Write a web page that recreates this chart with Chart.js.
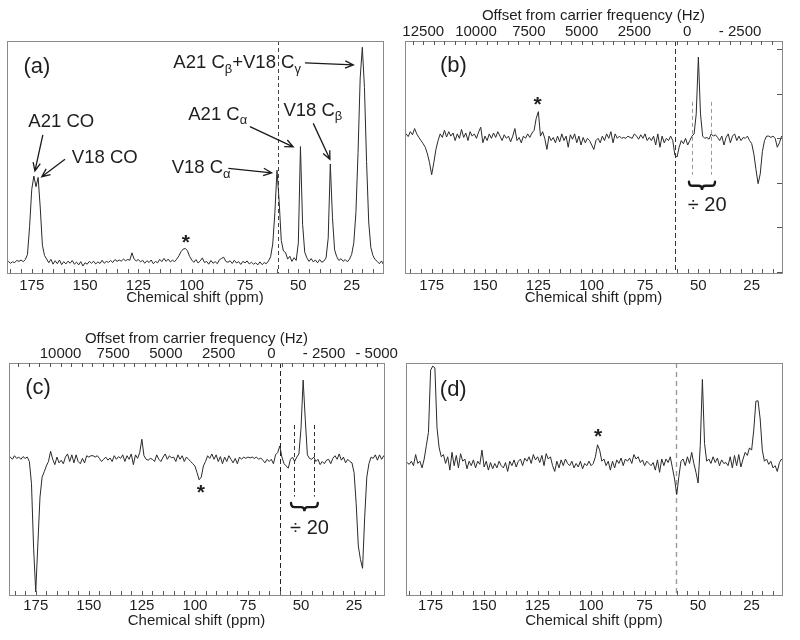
<!DOCTYPE html>
<html><head><meta charset="utf-8">
<script src="https://cdn.jsdelivr.net/npm/chart.js@4.4.0/dist/chart.umd.min.js"></script>
<style>
html,body{margin:0;padding:0;background:#fff;}
#wrap{position:relative;width:800px;height:640px;overflow:hidden;}
.panel{position:absolute;width:400px;height:320px;}
canvas{display:block;}
</style></head><body>
<div id="wrap">
<div class="panel" style="left:0;top:0"><canvas id="ca" width="400" height="320"></canvas></div>
<div class="panel" style="left:400px;top:0"><canvas id="cb" width="400" height="320"></canvas></div>
<div class="panel" style="left:0;top:320px"><canvas id="cc" width="400" height="320"></canvas></div>
<div class="panel" style="left:400px;top:320px"><canvas id="cd" width="400" height="320"></canvas></div>
</div>
<script>
// ---- chemical shift grid (ppm) ----
const ppm = [188,187,186,185,184,183,182,181,180,179,178,177,176,175,174,173,172,171,170,169,
168,167,166,165,164,163,162,161,160,159,158,157,156,155,154,153,152,151,150,149,
148,147,146,145,144,143,142,141,140,139,138,137,136,135,134,133,132,131,130,129,
128,127,126,125,124,123,122,121,120,119,118,117,116,115,114,113,112,111,110,109,
108,107,106,105,104,103,102,101,100,99,98,97,96,95,94,93,92,91,90,89,
88,87,86,85,84,83,82,81,80,79,78,77,76,75,74,73,72,71,70,69,
68,67,66,65,64,63,62,61,60,59,58,57,56,55,54,53,52,51,50,49,
48,47,46,45,44,43,42,41,40,39,38,37,36,35,34,33,32,31,30,29,
28,27,26,25,24,23,22,21,20,19,18,17,16,15,14,13,12,11,10];

// ---- spectrum (a): CP reference spectrum ----
const specA = [4.6,4.4,5.0,4.2,4.8,4.5,5.4,5.0,5.6,4.9,5.8,8.0,20,36,41.8,37.2,41.2,28,12,7.5,
6.0,4.4,5.9,3.8,5.3,4.0,5.6,3.6,4.9,3.9,5.1,4.2,5.4,3.8,4.7,3.5,4.9,3.0,4.4,3.8,
5.0,4.2,5.1,3.9,4.8,4.1,5.5,4.2,5.0,4.6,5.4,4.5,5.8,5.0,5.6,5.1,6.0,5.3,5.8,5.5,
8.7,6.0,5.2,5.8,4.8,5.5,4.2,5.3,4.5,5.6,4.0,5.0,4.4,5.9,4.9,6.3,5.0,6.0,4.8,5.5,
4.9,6.0,7.4,9.2,10.3,10.6,9.6,7.2,5.6,4.6,5.8,4.3,5.2,6.5,4.5,5.0,3.8,5.4,4.2,4.9,
4.0,5.7,6.3,6.8,5.0,4.6,5.3,4.1,5.5,4.3,4.9,3.7,5.0,4.4,5.2,3.9,4.6,3.8,4.4,3.5,
4.8,3.6,4.5,4.0,5.2,7.0,12.5,26,44.3,31,14,9.5,8.8,6.0,7.2,5.0,6.6,5.4,13,54.5,
21,9,6.5,5.0,6.2,4.8,5.6,4.4,5.8,4.6,5.2,6.5,15,47,24,10,7,5.4,6.2,5.0,
5.8,4.8,6.0,8.0,13,26,52,84,97.3,80,48,22,11,7.5,5.8,5.0,4.0,5.2,3.5];

// ---- spectrum (b) ----
const specB = [0.05,0.10,0.04,0.15,0.08,0.22,0.10,0.02,-0.05,-0.12,-0.20,-0.35,-0.55,-0.82,-0.55,-0.25,-0.05,0.10,0.02,0.18,
0.03,0.15,0.05,0.12,-0.05,0.10,0.0,0.20,0.02,0.12,-0.05,0.15,0.05,0.10,0.0,0.14,0.25,-0.10,0.05,-0.05,
0.10,0.0,0.12,0.02,0.15,0.05,-0.05,0.08,0.0,0.05,-0.08,0.05,0.22,-0.05,0.02,-0.10,0.05,0.0,0.10,0.02,
0.12,0.18,0.45,0.60,0.05,0.15,0.0,-0.25,0.05,-0.05,0.02,-0.10,0.05,-0.08,0.10,-0.05,0.05,-0.20,0.08,-0.02,
0.10,-0.10,0.05,-0.15,0.02,-0.10,0.0,-0.05,-0.15,-0.25,-0.05,0.0,-0.10,0.05,-0.05,0.10,0.0,0.15,-0.10,0.10,
0.0,0.05,0.0,0.02,0.0,0.05,0.02,0.0,0.10,0.05,-0.02,0.08,0.0,0.10,-0.05,0.02,-0.05,0.05,-0.15,0.10,
-0.20,0.05,-0.10,0.0,-0.05,0.05,-0.05,-0.38,-0.42,-0.20,-0.05,-0.12,0.0,-0.15,-0.05,0.05,0.10,0.55,1.83,0.55,
0.05,0.0,0.02,-0.02,0.10,0.05,0.08,0.02,-0.05,0.05,-0.15,0.02,0.10,-0.10,0.05,0.10,-0.05,0.05,-0.05,0.02,
0.0,0.05,-0.05,-0.12,-0.35,-0.70,-1.02,-0.80,-0.30,-0.05,0.05,0.05,0.02,0.05,0.0,-0.20,-0.10,0.05,0.0];

// ---- spectrum (c) ----
const specC = [0.02,0.05,0.0,0.08,0.02,0.05,0.0,0.06,0.02,0.05,-0.05,-0.55,-2.0,-2.98,-1.9,-0.85,-0.40,-0.28,-0.15,-0.05,
0.18,0.0,-0.12,0.05,-0.08,-0.02,-0.10,0.05,0.12,-0.05,0.10,-0.08,0.10,-0.05,-0.10,0.02,-0.08,0.08,0.05,0.08,
0.08,0.05,0.08,0.02,-0.05,0.0,0.05,-0.02,0.03,-0.05,0.08,0.0,0.06,0.02,0.10,-0.05,0.08,0.0,0.12,-0.12,
0.10,0.02,0.15,0.45,0.08,0.0,-0.02,0.02,0.0,-0.05,0.10,0.0,-0.05,0.05,0.12,0.0,0.08,0.03,0.05,-0.05,
0.10,0.0,0.08,-0.05,0.05,0.0,-0.05,-0.10,-0.15,-0.30,-0.46,-0.40,-0.15,-0.05,0.08,0.02,0.12,0.0,0.10,-0.05,
0.06,-0.10,0.05,-0.05,0.08,0.0,-0.08,0.02,-0.10,0.05,0.0,0.05,0.02,0.05,0.03,0.05,0.02,0.05,0.0,0.03,
-0.02,-0.08,0.0,-0.05,0.0,-0.10,0.10,0.15,0.30,0.05,-0.10,-0.15,-0.20,0.0,0.05,-0.05,0.05,0.12,0.70,1.78,
0.90,0.10,0.02,0.0,0.05,-0.05,0.0,-0.12,-0.05,-0.10,-0.02,0.0,-0.10,0.02,0.08,0.0,0.12,-0.02,0.05,-0.08,
0.0,-0.05,-0.08,-0.30,-1.0,-1.95,-2.25,-2.45,-1.3,-0.40,-0.10,0.05,0.02,0.10,-0.02,0.10,0.0,0.08,0.0];

// ---- spectrum (d) ----
const specD = [0.10,0.05,0.02,-0.02,0.05,-0.05,0.20,0.0,0.05,-0.10,0.10,0.40,0.70,2.10,2.19,2.15,0.80,0.35,0.15,0.20,
0.0,0.15,-0.15,0.25,-0.05,0.18,-0.10,0.22,0.05,0.10,-0.12,0.05,-0.05,0.08,-0.10,0.05,-0.02,0.30,-0.08,0.05,
-0.15,0.02,-0.12,0.0,-0.10,0.05,-0.05,-0.10,0.02,-0.18,0.05,-0.05,0.08,-0.08,0.05,0.10,-0.05,0.12,0.05,0.15,
0.0,0.20,0.08,0.15,0.02,0.18,-0.05,0.22,0.10,0.15,-0.05,-0.18,0.05,-0.10,0.08,-0.05,0.10,0.0,-0.05,0.05,
-0.10,0.0,-0.08,0.05,-0.12,0.0,-0.05,0.05,-0.05,0.0,0.15,0.42,0.30,0.05,0.10,-0.05,0.05,-0.15,0.05,-0.10,
0.08,0.0,0.12,-0.05,0.10,0.05,0.12,0.0,0.20,0.10,0.15,0.02,0.08,-0.05,0.05,0.0,-0.05,0.02,-0.15,0.08,
-0.20,0.10,-0.05,0.10,0.02,0.15,-0.10,-0.35,-0.70,-0.30,0.05,0.10,-0.05,0.15,0.0,0.25,0.0,-0.20,-0.44,0.40,
1.89,0.45,0.05,0.10,0.0,0.15,0.02,0.12,-0.05,0.08,0.0,0.02,-0.05,0.15,-0.10,0.18,-0.05,0.20,-0.08,0.10,
0.25,0.18,0.35,0.30,0.75,1.40,1.41,1.00,0.30,0.05,0.10,-0.02,0.05,-0.10,-0.05,-0.18,0.02,0.10,0.05];

// ---- tick labels ----
const shiftTicks = [175,150,125,100,75,50,25];
const offsetTicksB = [12500,10000,7500,5000,2500,0,-2500];
const offsetTicksC = [10000,7500,5000,2500,0,-2500,-5000];
const intensityTicksB = [-3,-2,-1,0,1,2];

const FONT = "'Liberation Sans', Arial, Helvetica, sans-serif";
const TXT = '#1e1e1e';

function drawRich(ctx, parts, x, y, size, align, bold) {
  const w0 = bold ? 'bold ' : '';
  let total = 0;
  const widths = parts.map(p => {
    ctx.font = w0 + (p.sub ? size * 0.7 : size) + 'px ' + FONT;
    const w = ctx.measureText(p.t).width; total += w; return w;
  });
  let cx = align === 'center' ? x - total / 2 : x;
  ctx.textAlign = 'left';
  ctx.textBaseline = 'middle';
  parts.forEach((p, i) => {
    ctx.font = w0 + (p.sub ? size * 0.7 : size) + 'px ' + FONT;
    ctx.fillText(p.t, cx, y + (p.sub ? size * 0.32 : 0));
    cx += widths[i];
  });
}

function makeDeco(d) {
  return {
    id: 'deco',
    beforeDatasetsDraw(chart) {
      const {ctx, chartArea: a, scales: {x}} = chart;
      ctx.save();
      ctx.strokeStyle = d.center.color; ctx.lineWidth = d.center.width;
      ctx.setLineDash(d.center.dash);
      const cx = Math.round(x.getPixelForValue(d.center.ppm)) + 0.5;
      ctx.beginPath(); ctx.moveTo(cx, a.top); ctx.lineTo(cx, a.bottom); ctx.stroke();
      ctx.restore();
    },
    afterDraw(chart) {
      const {ctx, chartArea: a, scales} = chart;
      const x = scales.x, y = scales.y;
      ctx.save();
      // frame
      ctx.strokeStyle = '#8a8a8a'; ctx.lineWidth = 1;
      ctx.strokeRect(Math.round(a.left) + 0.5, Math.round(a.top) + 0.5,
                     Math.round(a.right - a.left), Math.round(a.bottom - a.top));
      // bottom minor ticks (inward) every 5 ppm
      ctx.strokeStyle = '#555';
      ctx.beginPath();
      for (let v = 15; v <= 185; v += 5) {
        const px = Math.round(x.getPixelForValue(v)) + 0.5;
        if (px < a.left || px > a.right) continue;
        ctx.moveTo(px, a.bottom); ctx.lineTo(px, a.bottom - 4);
      }
      ctx.stroke();
      // top Hz ticks
      if (scales.xTop) {
        const t = scales.xTop;
        ctx.beginPath();
        for (let v = -6000; v <= 14000; v += 500) {
          const px = Math.round(t.getPixelForValue(v)) + 0.5;
          if (px < a.left || px > a.right) continue;
          ctx.moveTo(px, a.top); ctx.lineTo(px, a.top + 4);
        }
        ctx.stroke();
      }
      // right intensity ticks
      if (d.rightTicks) {
        ctx.beginPath();
        d.rightTicks.forEach(v => {
          const py = Math.round(y.getPixelForValue(v)) + 0.5;
          if (py <= a.top || py >= a.bottom) return;
          ctx.moveTo(a.right, py); ctx.lineTo(a.right - 5, py);
        });
        ctx.stroke();
      }
      // scaled-region markers
      if (d.region) {
        const r = d.region;
        ctx.strokeStyle = r.color; ctx.lineWidth = 1; ctx.setLineDash([4, 3]);
        ctx.beginPath();
        [r.left, r.right].forEach(p => {
          const px = Math.round(x.getPixelForValue(p)) + 0.5;
          ctx.moveTo(px, y.getPixelForValue(r.top)); ctx.lineTo(px, y.getPixelForValue(r.bottom));
        });
        ctx.stroke(); ctx.setLineDash([]);
      }
      // brace
      if (d.brace) {
        const b = d.brace;
        const x0 = x.getPixelForValue(b.left), x1 = x.getPixelForValue(b.right);
        const y0 = y.getPixelForValue(b.top), y1 = y.getPixelForValue(b.bottom);
        const xc = (x0 + x1) / 2, ym = (y0 + y1) / 2, q = 3.5;
        ctx.strokeStyle = '#1a1a1a'; ctx.lineWidth = 2.4; ctx.lineCap = 'round';
        ctx.beginPath();
        ctx.moveTo(x0, y0);
        ctx.quadraticCurveTo(x0, ym, x0 + q, ym);
        ctx.lineTo(xc - q, ym);
        ctx.quadraticCurveTo(xc, ym, xc, y1);
        ctx.quadraticCurveTo(xc, ym, xc + q, ym);
        ctx.lineTo(x1 - q, ym);
        ctx.quadraticCurveTo(x1, ym, x1, y0);
        ctx.stroke();
      }
      // arrows
      ctx.strokeStyle = '#1a1a1a'; ctx.lineWidth = 1.3; ctx.lineCap = 'butt';
      (d.arrows || []).forEach(ar => {
        const xs = x.getPixelForValue(ar.from[0]), ys = y.getPixelForValue(ar.from[1]);
        const xe = x.getPixelForValue(ar.to[0]), ye = y.getPixelForValue(ar.to[1]);
        const ang = Math.atan2(ye - ys, xe - xs), L = 9, w = 0.42;
        ctx.beginPath();
        ctx.moveTo(xs, ys); ctx.lineTo(xe, ye);
        ctx.moveTo(xe - L * Math.cos(ang - w), ye - L * Math.sin(ang - w));
        ctx.lineTo(xe, ye);
        ctx.lineTo(xe - L * Math.cos(ang + w), ye - L * Math.sin(ang + w));
        ctx.stroke();
      });
      // texts
      ctx.fillStyle = TXT;
      (d.texts || []).forEach(t => {
        drawRich(ctx, t.parts, x.getPixelForValue(t.ppm), y.getPixelForValue(t.val), t.size, t.align, t.bold);
      });
      ctx.restore();
    }
  };
}

function makePanel(id, c) {
  const scales = {
    x: {
      type: 'linear', reverse: true, min: c.ppmRight, max: c.ppmLeft,
      afterBuildTicks: s => { s.ticks = shiftTicks.map(v => ({value: v})); },
      afterFit: s => { s.height = c.bottomH; },
      grid: {display: false, drawTicks: false}, border: {display: false},
      ticks: {padding: c.tickPad, color: TXT, font: {family: FONT, size: 15}, maxRotation: 0, autoSkip: false},
      title: {display: true, text: 'Chemical shift (ppm)', color: TXT, font: {family: FONT, size: 15}, padding: 0}
    },
    y: {type: 'linear', display: false, min: c.yMin, max: c.yMax}
  };
  if (c.hz) {
    const hz = p => (p - c.hz.carrier) * c.hz.perPpm;
    scales.xTop = {
      type: 'linear', position: 'top', reverse: true, min: hz(c.ppmRight), max: hz(c.ppmLeft),
      afterBuildTicks: s => { s.ticks = c.hz.ticks.map(v => ({value: v})); },
      afterFit: s => { s.height = c.hz.height; },
      grid: {display: false, drawTicks: false}, border: {display: false},
      ticks: {padding: c.hz.tickPad, color: TXT, font: {family: FONT, size: 15}, maxRotation: 0, autoSkip: false,
              callback: v => (v < 0 ? '- ' + (-v) : String(v))},
      title: {display: true, text: 'Offset from carrier frequency (Hz)', color: TXT, font: {family: FONT, size: 15}, padding: 0}
    };
  }
  return new Chart(document.getElementById(id), {
    type: 'line',
    data: {datasets: [{
      data: ppm.map((p, i) => ({x: p, y: c.values[i]})),
      borderColor: '#2a2a2a', borderWidth: 1, pointRadius: 0, tension: 0, fill: false
    }]},
    options: {
      responsive: false, maintainAspectRatio: false, animation: false, events: [],
      layout: {padding: c.padding},
      plugins: {legend: {display: false}, tooltip: {enabled: false}},
      scales
    },
    plugins: [makeDeco(c.deco)]
  });
}

const ANN = 18.5;

makePanel('ca', {
  values: specA, ppmLeft: 186.6, ppmRight: 10.3, yMin: 0, yMax: 100,
  padding: {left: 7, right: 17, top: 41, bottom: 13}, bottomH: 34, tickPad: 4,
  deco: {
    center: {ppm: 59.4, color: '#444', width: 1, dash: [4, 3]},
    texts: [
      {parts: [{t: '(a)'}], ppm: 178.9, val: 88.9, size: 22},
      {parts: [{t: 'A21 CO'}], ppm: 176.6, val: 65.0, size: ANN},
      {parts: [{t: 'V18 CO'}], ppm: 156.2, val: 49.5, size: ANN},
      {parts: [{t: 'V18 C'}, {t: 'α', sub: true}], ppm: 109.4, val: 45.1, size: ANN},
      {parts: [{t: 'A21 C'}, {t: 'α', sub: true}], ppm: 101.6, val: 68.1, size: ANN},
      {parts: [{t: 'V18 C'}, {t: 'β', sub: true}], ppm: 57.0, val: 69.9, size: ANN},
      {parts: [{t: 'A21 C'}, {t: 'β', sub: true}, {t: '+V18 C'}, {t: 'γ', sub: true}], ppm: 108.6, val: 90.4, size: ANN},
      {parts: [{t: '*'}], ppm: 102.8, val: 13.0, size: 21, align: 'center', bold: true}
    ],
    arrows: [
      {from: [169.8, 59.5], to: [173.5, 44.0]},
      {from: [159.4, 49.0], to: [170.3, 41.5]},
      {from: [82.8, 45.1], to: [62.5, 43.2]},
      {from: [72.7, 63.1], to: [52.4, 54.4]},
      {from: [43.0, 64.5], to: [35.2, 49.0]},
      {from: [46.9, 90.6], to: [24.2, 89.7]}
    ]
  }
});

makePanel('cb', {
  values: specB, ppmLeft: 187.5, ppmRight: 10.8, yMin: -3.03, yMax: 2.19,
  padding: {left: 5, right: 18, top: 7, bottom: 13}, bottomH: 34, tickPad: 4,
  hz: {carrier: 55.2, perPpm: 101, ticks: offsetTicksB, height: 34, tickPad: 0},
  deco: {
    center: {ppm: 60.9, color: '#333', width: 1, dash: [5, 3]},
    rightTicks: intensityTicksB,
    region: {left: 53.1, right: 44.2, top: 0.82, bottom: -0.82, color: '#9a9a9a'},
    brace: {left: 54.4, right: 42.2, top: -0.975, bottom: -1.16},
    texts: [
      {parts: [{t: '(b)'}], ppm: 171.1, val: 1.63, size: 22},
      {parts: [{t: '*'}], ppm: 125.4, val: 0.75, size: 21, align: 'center', bold: true},
      {parts: [{t: '÷ 20'}], ppm: 45.9, val: -1.52, size: 20, align: 'center'}
    ]
  }
});

makePanel('cc', {
  values: specC, ppmLeft: 187.6, ppmRight: 10.9, yMin: -3.05, yMax: 2.164,
  padding: {left: 9, right: 16, top: 10, bottom: 10}, bottomH: 35, tickPad: 2,
  hz: {carrier: 64.0, perPpm: 100.7, ticks: offsetTicksC, height: 33, tickPad: 0},
  deco: {
    center: {ppm: 60.1, color: '#222', width: 1, dash: [5, 3]},
    region: {left: 53.1, right: 43.9, top: 0.77, bottom: -0.84, color: '#333'},
    brace: {left: 54.7, right: 42.1, top: -0.98, bottom: -1.17},
    texts: [
      {parts: [{t: '(c)'}], ppm: 180.0, val: 1.60, size: 22},
      {parts: [{t: '*'}], ppm: 97.2, val: -0.77, size: 21, align: 'center', bold: true},
      {parts: [{t: '÷ 20'}], ppm: 46.0, val: -1.56, size: 20, align: 'center'}
    ]
  }
});

makePanel('cd', {
  values: specD, ppmLeft: 186.5, ppmRight: 10.8, yMin: -2.96, yMax: 2.26,
  padding: {left: 6, right: 18, top: 43, bottom: 10}, bottomH: 35, tickPad: 2,
  deco: {
    center: {ppm: 60.4, color: '#9a9a9a', width: 1.4, dash: [5, 4]},
    texts: [
      {parts: [{t: '(d)'}], ppm: 170.7, val: 1.65, size: 22},
      {parts: [{t: '*'}], ppm: 96.7, val: 0.60, size: 21, align: 'center', bold: true}
    ]
  }
});
</script>
</body></html>
